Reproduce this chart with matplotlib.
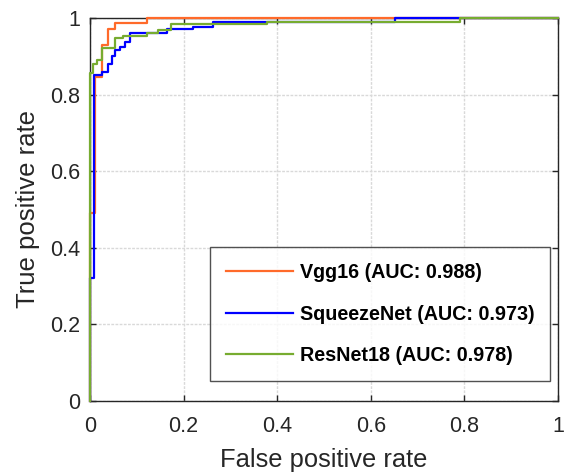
import matplotlib
matplotlib.use("Agg")
import matplotlib.pyplot as plt

plt.rcParams['font.family'] = ['Liberation Sans', 'DejaVu Sans']

# ROC curve data (staircase vertices)
vgg_fpr = [0.0, 0.0, 0.011, 0.011, 0.025, 0.025, 0.039, 0.039, 0.053, 0.053, 0.121, 0.121, 1.0]
vgg_tpr = [0.0, 0.49, 0.49, 0.846, 0.846, 0.93, 0.93, 0.971, 0.971, 0.986, 0.986, 1.0, 1.0]

sq_fpr = [0.0, 0.0, 0.009, 0.009, 0.025, 0.025, 0.039, 0.039, 0.046, 0.046, 0.053, 0.053,
          0.064, 0.064, 0.075, 0.075, 0.085, 0.085, 0.164, 0.164, 0.22, 0.22, 0.263, 0.263,
          0.652, 0.652, 1.0]
sq_tpr = [0.0, 0.32, 0.32, 0.851, 0.851, 0.86, 0.86, 0.88, 0.88, 0.90, 0.90, 0.916,
          0.916, 0.925, 0.925, 0.938, 0.938, 0.962, 0.962, 0.971, 0.971, 0.977, 0.977, 0.99,
          0.99, 1.0, 1.0]

rn_fpr = [0.0, 0.0, 0.007, 0.007, 0.014, 0.014, 0.025, 0.025, 0.053, 0.053, 0.071, 0.071,
          0.121, 0.121, 0.145, 0.145, 0.174, 0.174, 0.378, 0.378, 0.79, 0.79, 1.0]
rn_tpr = [0.0, 0.856, 0.856, 0.881, 0.881, 0.89, 0.89, 0.921, 0.921, 0.947, 0.947, 0.954,
          0.954, 0.96, 0.96, 0.969, 0.969, 0.984, 0.984, 0.99, 0.99, 1.0, 1.0]

labels = ["Vgg16 (AUC: 0.988)", "SqueezeNet (AUC: 0.973)", "ResNet18 (AUC: 0.978)"]
colors = ["#ff6a2a", "#0000ff", "#77ac30"]
ticks = [0, 0.2, 0.4, 0.6, 0.8, 1]
tick_labels = ["0", "0.2", "0.4", "0.6", "0.8", "1"]

fig = plt.figure(figsize=(5.66, 4.75), dpi=100)
ax = fig.add_axes([90/566, 1-401/475, 468/566, 383/475])

for x, y, lab, c in zip([vgg_fpr, sq_fpr, rn_fpr], [vgg_tpr, sq_tpr, rn_tpr], labels, colors):
    ax.plot(x, y, color=c, lw=1.6, label=lab, clip_on=False, zorder=3)

ax.set_xlim(0, 1)
ax.set_ylim(0, 1)
ax.set_xticks(ticks)
ax.set_xticklabels(tick_labels)
ax.set_yticks(ticks)
ax.set_yticklabels(tick_labels)
ax.grid(True, color='#d9d9d9', lw=1.0, ls=(0, (2, 1)))
ax.set_axisbelow(True)
ax.tick_params(direction='in', length=4, width=1, colors='#262626', labelsize=15.5,
               top=True, right=True)
ax.tick_params(axis='x', pad=11)
ax.tick_params(axis='y', pad=7)
for s in ax.spines.values():
    s.set_color('#262626')
    s.set_linewidth(1.0)
    s.set_zorder(2.5)
ax.set_xlabel("False positive rate", fontsize=18.4, color='#262626', labelpad=8)
ax.set_ylabel("True positive rate", fontsize=18.5, color='#262626', labelpad=7)

leg = ax.legend(loc='lower right', bbox_to_anchor=(0.983, 0.052),
                prop={'weight': 'bold', 'size': 14.2},
                frameon=True, fancybox=False, edgecolor='#262626', handlelength=3.4,
                labelspacing=1.15, borderpad=0.8, handletextpad=0.32, borderaxespad=0)
leg.get_frame().set_linewidth(1.0)
leg.set_zorder(5)

fig.savefig("out.png", dpi=100)
